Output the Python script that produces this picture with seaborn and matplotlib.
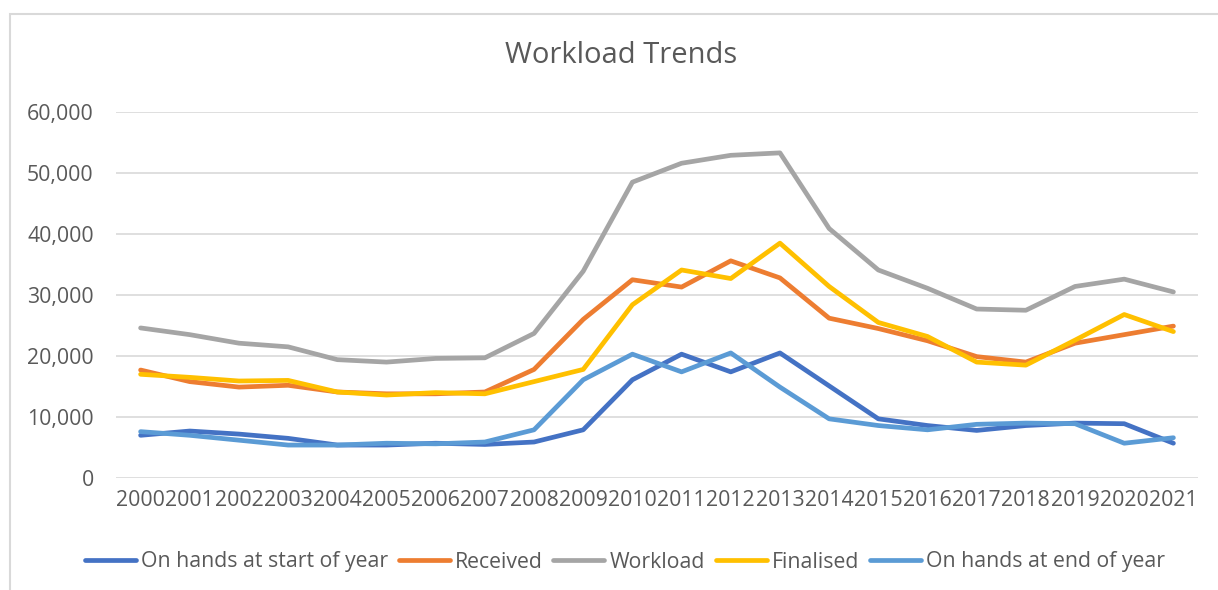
import matplotlib
matplotlib.use("Agg")
import matplotlib.pyplot as plt
import matplotlib.ticker as mticker
from matplotlib.patches import Rectangle
import seaborn as sns
import pandas as pd

years = [str(y) for y in range(2000, 2022)]
on_hands_start = [7000, 7700, 7200, 6500, 5400, 5400, 5700, 5500, 5900, 7900, 16100,
                  20300, 17400, 20500, 15100, 9700, 8600, 7800, 8600, 9000, 8900, 5700]
received = [17700, 15800, 14900, 15200, 14100, 13800, 13800, 14100, 17800, 26000, 32500,
            31300, 35600, 32800, 26200, 24500, 22500, 19900, 19000, 22100, 23500, 24900]
workload = [24600, 23500, 22100, 21500, 19400, 19000, 19600, 19700, 23700, 33900, 48500,
            51600, 52900, 53300, 40900, 34100, 31100, 27700, 27500, 31400, 32600, 30500]
finalised = [17000, 16500, 15900, 16000, 14100, 13600, 14000, 13800, 15800, 17800, 28400,
             34100, 32700, 38500, 31400, 25500, 23200, 19000, 18500, 22600, 26800, 24000]
on_hands_end = [7600, 7000, 6200, 5400, 5400, 5700, 5600, 5900, 7900, 16100, 20300,
                17400, 20500, 14900, 9700, 8600, 7900, 8800, 9000, 8900, 5700, 6600]
series_names = ["On hands at start of year", "Received", "Workload", "Finalised",
                "On hands at end of year"]
colors = ["#4472C4", "#ED7D31", "#A5A5A5", "#FFC000", "#5B9BD5"]

frames = []
for name, vals in zip(series_names,
                      [on_hands_start, received, workload, finalised, on_hands_end]):
    frames.append(pd.DataFrame({"Year": years, "Value": vals, "Series": name}))
df = pd.concat(frames, ignore_index=True)

sns.set_style("white")
plt.rcParams["font.family"] = ["Open Sans", "DejaVu Sans"]
text_color = "#595959"

fig = plt.figure(figsize=(12.18, 5.90), dpi=100)
ax = fig.add_axes([116 / 1218, 1 - 478 / 590, (1198 - 116) / 1218, (478 - 112) / 590])

sns.lineplot(data=df, x="Year", y="Value", hue="Series", hue_order=series_names,
             palette=colors, linewidth=3.4, ax=ax, sort=False, legend=True)
for ln in ax.lines:
    ln.set_solid_capstyle("round")
    ln.set_solid_joinstyle("round")

ax.set_xlim(-0.5, len(years) - 0.5)
ax.set_ylim(0, 60000)
ax.yaxis.set_major_locator(mticker.MultipleLocator(10000))
ax.yaxis.set_major_formatter(mticker.FuncFormatter(lambda v, p: f"{int(v):,}"))
ax.grid(axis="y", color="#D9D9D9", linewidth=1.2)
ax.grid(axis="x", visible=False)
ax.set_axisbelow(True)
for s in ax.spines.values():
    s.set_visible(False)
ax.tick_params(axis="both", length=0, labelsize=15.3, colors=text_color)
ax.tick_params(axis="y", pad=16)
ax.tick_params(axis="x", pad=9)
ax.set_xlabel("")
ax.set_ylabel("")

handles, labels = ax.get_legend_handles_labels()
ax.get_legend().remove()
leg = fig.legend(handles, labels, loc="center", bbox_to_anchor=(625 / 1218, 1 - 562 / 590),
                 ncol=5, frameon=False, fontsize=15.3, handlelength=2.4,
                 handletextpad=0.25, columnspacing=0.5, borderaxespad=0)
for t in leg.get_texts():
    t.set_color(text_color)
for h in leg.get_lines():
    h.set_linewidth(3.4)
    h.set_solid_capstyle("round")

fig.text(621 / 1218, 1 - 63 / 590, "Workload Trends", ha="center", va="baseline",
         fontsize=21, color=text_color)

fig.patches.append(Rectangle((10 / 1218, -0.1), 1.2, 1 - 14 / 590 + 0.1,
                             transform=fig.transFigure, fill=False,
                             edgecolor="#D9D9D9", linewidth=1.5))

fig.savefig("out.png", dpi=100, facecolor="white")
